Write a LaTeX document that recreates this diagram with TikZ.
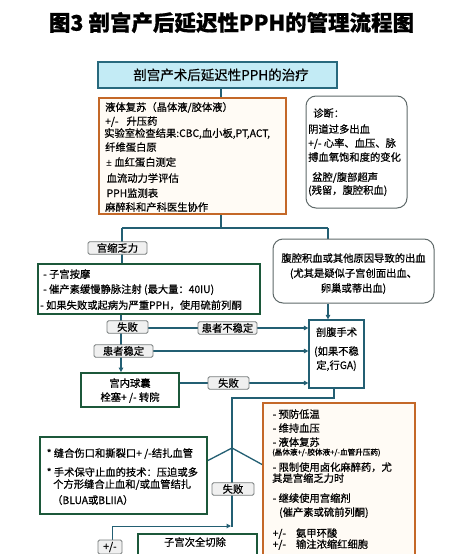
\documentclass[tikz,border=0pt]{standalone}
\usepackage{fontspec}
\setmainfont{Noto Sans CJK SC}[FakeBold=0.6]
\newfontfamily\latinpm{Noto Sans}
\usetikzlibrary{arrows.meta,backgrounds}
\definecolor{tealc}{RGB}{35,95,115}
\definecolor{topfill}{RGB}{195,235,245}
\definecolor{topdraw}{RGB}{40,105,125}
\definecolor{orangec}{RGB}{196,104,40}
\definecolor{creamc}{RGB}{255,251,245}
\definecolor{greenc}{RGB}{28,88,58}
\definecolor{lblfill}{RGB}{240,240,240}
\definecolor{lbldraw}{RGB}{120,125,125}
\definecolor{rbdraw}{RGB}{95,105,105}
\newcommand\txline[4]{\node[txt,anchor=base west] (#1) at (#2,#3) {#4};}
\newcommand\ctline[4]{\node[txt,anchor=base] (#1) at (#2,#3) {#4};}
\begin{document}
\begin{tikzpicture}[x=1pt,y=-1pt,
  txt/.style={inner sep=0pt,font=\fontsize{10.3}{12}\selectfont},
  conn/.style={draw=tealc,line width=1.3pt},
  arr/.style={conn,-{Triangle[length=4.5pt,width=4.5pt]}},
  lbl/.style={draw=lbldraw,fill=lblfill,rounded corners=1.5pt,line width=0.8pt,inner sep=0pt,minimum height=12.5pt,font=\fontsize{10.3}{12}\selectfont},
  obox/.style={draw=orangec,fill=creamc,line width=2pt,inner sep=0pt},
  gbox/.style={draw=greenc,fill=white,line width=1.8pt,inner sep=0pt},
  rbox/.style={draw=rbdraw,fill=white,line width=1pt,rounded corners=10pt,inner sep=0pt},
  tbox/.style={draw=tealc,fill=white,line width=1.3pt,inner sep=0pt},
]
\useasboundingbox (0,0) rectangle (459,554);
\clip (0,0) rectangle (459,554);

% title
\node[inner sep=0pt,anchor=base,font=\bfseries\fontsize{21.5}{24}\selectfont] (title) at (231.5,30.7) {图3 剖宫产后延迟性PPH的管理流程图};

% top box
\node[draw=topdraw,fill=topfill,line width=1.5pt,minimum width=239pt,minimum height=26pt,inner sep=0pt] (top) at (217.5,75) {};
\node[inner sep=0pt,anchor=base,font=\fontsize{13.5}{15}\selectfont] (topt) at (221,80) {剖宫产术后延迟性PPH的治疗};

% orange box 1
\node[obox,minimum width=187pt,minimum height=116pt] (ob1) at (192.5,156) {};
\txline{o1a}{105}{111}{液体复苏（晶体液/胶体液）}
\txline{o1b}{105}{125}{+/-\hspace{8pt}升压药}
\txline{o1c}{104}{137}{实验室检查结果:CBC,血小板,PT,ACT,}
\txline{o1d}{105}{151}{纤维蛋白原}
\txline{o1e}{106}{166}{{\latinpm ±} 血红蛋白测定}
\txline{o1f}{106.5}{182}{血流动力学评估}
\txline{o1g}{106.5}{197}{PPH监测表}
\txline{o1h}{105}{211}{麻醉科和产科医生协作}

% diagnosis box
\node[rbox,minimum width=101pt,minimum height=112pt] (rb1) at (356.5,152) {};
\txline{d1}{313}{117}{诊断：}
\txline{d2}{308}{133}{阴道过多出血}
\txline{d3}{308}{147}{+/- 心率、血压、脉}
\txline{d4}{308}{161}{搏血氧饱和度的变化}
\txline{d5}{312}{181}{盆腔/腹部超声}
\txline{d6}{308}{194}{(残留，腹腔积血)}

% green box 1
\node[gbox,minimum width=222pt,minimum height=50pt] (g1) at (149,289) {};
\txline{g1a}{43}{278}{- 子宫按摩}
\txline{g1b}{43}{293}{- 催产素缓慢静脉注射 (最大量：40IU)}
\txline{g1c}{40}{309}{- 如果失败或起病为严重PPH，使用硫前列酮}

% rounded box 2
\node[rbox,minimum width=161pt,minimum height=64pt] (rb2) at (353.5,271) {};
\ctline{r2a}{353.5}{262}{腹腔积血或其他原因导致的出血}
\ctline{r2b}{353.5}{277}{(尤其是疑似子宫创面出血、}
\ctline{r2c}{353.5}{292}{卵巢或蒂出血)}

% laparotomy box
\node[tbox,minimum width=55pt,minimum height=68pt] (lap) at (336.5,354) {};
\ctline{la}{336.5}{336}{剖腹手术}
\ctline{lb}{336.5}{355}{(如果不稳}
\ctline{lc}{336.5}{369}{定,行GA)}

% balloon box
\node[gbox,minimum width=98pt,minimum height=34pt] (qn) at (130,390) {};
\ctline{qa}{130}{387}{宫内球囊}
\ctline{qb}{130}{401}{栓塞+ /- 转院}

% green box 2
\node[gbox,minimum width=167pt,minimum height=77pt] (g2) at (123.5,475.5) {};
\txline{g2a}{46.5}{457}{* 缝合伤口和撕裂口+ /-结扎血管}
\txline{g2b}{46.5}{476}{* 手术保守止血的技术：压迫或多}
\txline{g2c}{53}{488}{个方形缝合止血和/或血管结扎}
\txline{g2d}{52}{504}{（BLUA或BLIIA）}

% orange box 2
\node[obox,minimum width=152pt,minimum height=197pt] (ob2) at (339,501.5) {};
\txline{o2a}{272.5}{418}{- 预防低温}
\txline{o2b}{272.5}{432}{- 维持血压}
\txline{o2c}{272.5}{446}{- 液体复苏}
\node[inner sep=0pt,anchor=base west,font=\fontsize{7.6}{9}\selectfont] (o2d) at (272,455) {(晶体液+/-胶体液+/-血管升压药)};
\txline{o2e}{272.5}{471}{- 限制使用卤化麻醉药，尤}
\txline{o2f}{272}{482}{其是宫缩乏力时}
\txline{o2g}{272.5}{502}{- 继续使用宫缩剂}
\txline{o2h}{279}{516}{(催产素或硫前列酮)}
\txline{o2i}{272.5}{537}{+/-\hspace{10pt}氨甲环酸}
\txline{o2j}{272.5}{548}{+/-\hspace{10pt}输注浓缩红细胞}

% subtotal hysterectomy box
\node[gbox,minimum width=119pt,minimum height=40pt,anchor=north] (zg) at (197.5,533) {};
\ctline{zga}{195}{546}{子宫次全切除}

% labels
\node[lbl,minimum width=59pt] (gs) at (117.5,248) {宫缩乏力};
\node[lbl,minimum width=41pt] (sb1) at (127.5,327) {失败};
\node[lbl,minimum width=59pt] (bwd) at (227.5,328) {患者不稳定};
\node[lbl,minimum width=59pt] (hw) at (123.5,351) {患者稳定};
\node[lbl,minimum width=41pt] (sb2) at (228.5,383) {失败};
\node[lbl,minimum width=42pt] (sb3) at (233,489) {失败};
\node[lbl,minimum width=24pt,minimum height=14pt] (pml) at (110,547) {+/-};

% connectors
\begin{scope}[on background layer]
\fill[white] (0,0) rectangle (459,554);
\coordinate (jx) at (221,228);
\coordinate (jl) at (122,228);
\coordinate (jr) at (328,228);
\coordinate (vx) at (121,300);
\draw[conn] (top.south -| jx) -- (ob1.north -| jx);
\draw[conn] (ob1.south -| jx) -- (jx);
\draw[conn] (jl) -- (jr);
\draw[conn] (jl) -- (g1.north -| jl);
\draw[conn] (jr) -- (rb2.north -| jr);
\draw[arr] (rb2.south -| jr) -- (lap.north -| jr);
\draw[arr] (g1.south -| vx) -- (qn.north -| vx);
\draw[arr] (sb1.east |- bwd) -- (lap.west |- bwd);
\draw[arr] (hw.east) -- (lap.west |- hw.east);
\draw[arr] (qn.east |- sb2) -- (lap.west |- sb2);
\coordinate (b1) at (334,398);
\coordinate (b2) at (232,398);
\coordinate (b3) at (232,527);
\draw[conn] (lap.south -| b1) -- (b1) -- (b2) -- (b3);
\coordinate (apx) at (232,448);
\coordinate (ge) at (207,461);
\coordinate (oe) at (263,465);
\draw[conn] (ge) -- (apx) -- (oe);
\coordinate (pm) at (112,554);
\coordinate (pk) at (112,526);
\coordinate (pe) at (231,526);
\draw[arr,line width=1pt] (pm) -- (pk) -- (pe);
\end{scope}
\end{tikzpicture}
\end{document}
